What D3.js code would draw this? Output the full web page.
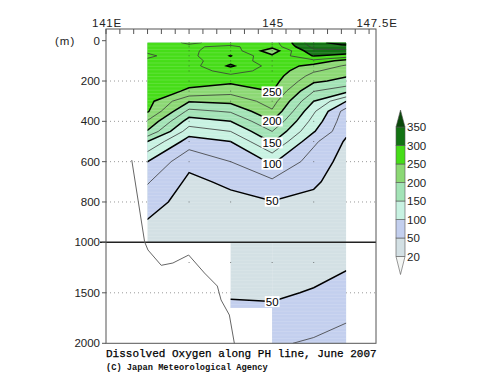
<!DOCTYPE html>
<html><head><meta charset="utf-8">
<script src="https://cdn.jsdelivr.net/npm/d3@7/dist/d3.min.js"></script>
<style>html,body{margin:0;padding:0;background:#fff;} svg{display:block;}</style>
</head><body>
<svg id="chart" width="500" height="387"></svg>
<script>
// ---------------- data ----------------
const lonUpper = [142, 143, 144, 145, 146, 146.78];
const depthUpper = [10,20,30,50,75,100,125,150,175,200,250,300,350,400,450,500,600,700,800,900,1000];
// dissolved oxygen (umol/kg), rows = depth, columns = station
const oxyUpper = [
  [262, 278, 268, 262, 342, 362],
  [263, 274, 272, 260, 338, 352],
  [265, 272, 280, 258, 332, 340],
  [273, 270, 290, 235, 320, 318],
  [277, 268, 301, 254, 302, 290],
  [273, 266, 292, 260, 268, 240],
  [268, 264, 304, 265, 242, 222],
  [266, 262, 285, 266, 228, 212],
  [265, 259, 270, 263, 216, 202],
  [264, 256, 256, 260, 205, 193],
  [262, 247, 234, 251, 176, 158],
  [259, 202, 207, 236, 150, 101],
  [253, 168, 178, 222, 129, 64],
  [222, 138, 150, 199, 115, 59],
  [197, 112, 125, 175, 102, 55],
  [150, 88, 100, 153, 80, 47],
  [100, 56, 75, 104, 62, 42],
  [77, 45, 54, 70, 53, 40],
  [62, 38, 44, 49, 45, 39],
  [48, 35, 41, 42, 41, 38],
  [40, 33, 38, 38, 39, 37]
];
const lonDeepA = [144, 145];
const depthDeepA = [1000, 1200, 1500, 1650];
const oxyDeepA = [
  [38, 38],
  [44, 44],
  [48.5, 48],
  [52, 51.5]
];
const lonDeepB = [145, 146, 146.78];
const depthDeepB = [1000, 1200, 1500, 1650, 1800, 2000];
const oxyDeepB = [
  [38, 39, 37],
  [44, 45, 47],
  [48, 51, 58],
  [51.5, 57, 65],
  [60, 70, 75],
  [73, 77, 86]
];
const fillLevels = [20, 50, 100, 150, 200, 250, 300, 350];
const fillColors = ["#f4f6f4", "#d3e0e4", "#c3cfee", "#c8f2e2", "#a3e3b6", "#8cd874", "#46dd18", "#137313", "#0b480b"];
const thickLevels = [50, 100, 150, 200, 250, 300, 350];
const thinLevels = [75, 125, 175, 225, 275, 325];
const labelLevels = [50, 100, 150, 200, 250];
const labelLon = 145;
const bottomLon = [141.62, 141.93, 142.01, 142.33, 142.61, 142.99, 143.37, 143.68, 143.77, 143.97, 144.09];
const bottomDepth = [592, 998, 1076, 1228, 1205, 1126, 1304, 1433, 1571, 1720, 2000];
const sampleLon = [143, 144, 145, 146];
const sampleDepth = [10, 20, 30, 50, 75, 100, 125, 150, 200, 250, 300, 400, 500, 600, 800, 1200];
const xTickVals = [141, 145, 147.5];
const xTickText = ["141E", "145", "147.5E"];
const yTickVals = [0, 200, 400, 600, 800, 1000, 1500, 2000];
const gridDepths = [200, 400, 600, 800, 1500];

// ---------------- scales ----------------
const svg = d3.select("#chart");
const x = d3.scaleLinear().domain([141, 147.5]).range([106, 376]);
const y = d3.scaleLinear().domain([0, 1000, 2000]).range([40.7, 242.3, 343.3]);
const frameTop = 29, frameBottom = y(2000), frameLeft = x(141), frameRight = x(147.5);
const defs = svg.append("defs");

function indexScale(arr, pad) {
  const n = arr.length - 1;
  const s = d3.scaleLinear().domain(d3.range(arr.length)).range(arr);
  return i => i < 0 ? arr[0] + i * pad : i > n ? arr[n] + (i - n) * pad : s(i);
}

// dotted grid lines (under the fill)
svg.append("g").selectAll("line").data(gridDepths).join("line")
  .attr("x1", frameLeft).attr("x2", frameRight)
  .attr("y1", d => y(d)).attr("y2", d => y(d))
  .attr("stroke", "#999").attr("stroke-width", 1).attr("stroke-dasharray", "1,3");

const fields = [];
function field(lons, depths, grid, clipPts, id) {
  const nx = lons.length, ny = depths.length;
  const values = grid.flat();
  const lonAt = indexScale(lons, 6), depAt = indexScale(depths, 900);
  const path = d3.geoPath(d3.geoTransform({
    point(px, py) { this.stream.point(x(lonAt(px - 0.5)), y(depAt(py - 0.5))); }
  }));
  const pts = clipPts.map(([lo, de]) => [x(lo), y(de)].join(",")).join(" ");
  defs.append("clipPath").attr("id", id).append("polygon").attr("points", pts);
  const g = svg.append("g").attr("clip-path", `url(#${id})`);
  g.append("polygon").attr("points", pts).attr("fill", fillColors[0]);
  const bands = d3.contours().size([nx, ny]).thresholds(fillLevels)(values);
  g.selectAll("path").data(bands).join("path")
    .attr("d", path).attr("fill", (d, i) => fillColors[i + 1]);
  fields.push({ lons, depths, grid, values, nx, ny, path, id });
}
field(lonUpper, depthUpper, oxyUpper,
  [[142, 10], [146.78, 10], [146.78, 1000], [142, 1000]], "clipU");
field(lonDeepA, depthDeepA, oxyDeepA,
  [[144, 1000], [145, 1000], [145, 1650], [144, 1650]], "clipA");
field(lonDeepB, depthDeepB, oxyDeepB,
  [[145, 1000], [146.78, 1000], [146.78, 2000], [145, 2000]], "clipB");

// faint horizontal striping of the shaded area
fields.forEach(f => {
  const gs = svg.append("g").attr("clip-path", `url(#${f.id})`);
  gs.selectAll("line").data(d3.range(frameTop, frameBottom, 3.4)).join("line")
    .attr("x1", frameLeft).attr("x2", frameRight).attr("y1", d => d).attr("y2", d => d)
    .attr("stroke", "#fff").attr("stroke-opacity", 0.15).attr("stroke-width", 1);
});

// contour lines
fields.forEach(f => {
  const g = svg.append("g").attr("clip-path", `url(#${f.id})`).attr("fill", "none");
  g.selectAll("path.thin").data(d3.contours().size([f.nx, f.ny]).thresholds(thinLevels)(f.values))
    .join("path").attr("class", "thin").attr("d", f.path)
    .attr("stroke", "#3a3a3a").attr("stroke-width", 0.8);
  g.selectAll("path.thick").data(d3.contours().size([f.nx, f.ny]).thresholds(thickLevels)(f.values))
    .join("path").attr("class", "thick").attr("d", f.path)
    .attr("stroke", "#000").attr("stroke-width", 1.5);
});

// sample points
const sp = [];
sampleLon.forEach(lo => sampleDepth.forEach(de => sp.push([lo, de])));
svg.append("g").selectAll("rect").data(sp).join("rect")
  .attr("x", d => x(d[0]) - 0.5).attr("y", d => y(d[1]) - 0.5)
  .attr("width", 1).attr("height", 1).attr("fill", "#333").attr("opacity", 0.6);

// 1000 m divider and bottom topography
svg.append("line").attr("x1", frameLeft - 6).attr("x2", frameRight)
  .attr("y1", y(1000)).attr("y2", y(1000)).attr("stroke", "#222").attr("stroke-width", 1.4);
svg.append("path")
  .attr("d", d3.line().x((d, i) => x(bottomLon[i])).y(d => y(d))(bottomDepth))
  .attr("fill", "none").attr("stroke", "#666").attr("stroke-width", 1);

// contour labels at 145E
function crossDepth(f, level) {
  const c = f.lons.indexOf(labelLon);
  let res = null;
  for (let j = 0; j < f.ny - 1; j++) {
    const a = f.grid[j][c], b = f.grid[j + 1][c];
    if ((a - level) * (b - level) <= 0 && a !== b) {
      res = f.depths[j] + (level - a) / (b - a) * (f.depths[j + 1] - f.depths[j]);
    }
  }
  return res;
}
const labs = [];
labelLevels.forEach(L => { const d = crossDepth(fields[0], L); if (d !== null) labs.push([L, d]); });
{ const d = crossDepth(fields[2], 50); if (d !== null) labs.push([50, d]); }
const lg = svg.append("g").attr("font-family", "'Liberation Sans', Arial, sans-serif").attr("font-size", 11.5);
labs.forEach(([L, d]) => {
  const t = lg.append("text").attr("x", x(labelLon)).attr("y", y(d)).attr("dy", "0.36em")
    .attr("text-anchor", "middle").attr("fill", "#000").text(L);
  const bb = t.node().getBBox();
  lg.insert("rect", "text").attr("x", bb.x - 1).attr("y", bb.y + 0.5).attr("width", bb.width + 2)
    .attr("height", bb.height - 1).attr("fill", "#fff");
});

// frame and axes
const ax = svg.append("g").attr("stroke", "#555").attr("stroke-width", 1).attr("fill", "none");
ax.append("rect").attr("x", frameLeft).attr("y", frameTop)
  .attr("width", frameRight - frameLeft).attr("height", frameBottom - frameTop);
ax.selectAll("line.xt").data(d3.range(0, 20).map(k => 141 + k / 3)).join("line")
  .attr("x1", d => x(d)).attr("x2", d => x(d)).attr("y1", frameTop).attr("y2", frameTop + 5);
ax.selectAll("line.yt").data(yTickVals).join("line")
  .attr("x1", frameLeft - 4).attr("x2", frameLeft).attr("y1", d => y(d)).attr("y2", d => y(d));

const tx = svg.append("g").attr("font-family", "'Liberation Sans', Arial, sans-serif")
  .attr("font-size", 11.5).attr("fill", "#222");
tx.selectAll("text.x").data(xTickVals).join("text")
  .attr("x", d => x(d) + 1).attr("y", 26.5).attr("text-anchor", "middle")
  .attr("letter-spacing", 0.8).text((d, i) => xTickText[i]);
tx.selectAll("text.y").data(yTickVals).join("text")
  .attr("x", 100).attr("y", d => y(d)).attr("dy", "0.36em").attr("text-anchor", "end").text(d => d);
tx.append("text").attr("x", 55).attr("y", y(0)).attr("dy", "0.36em").attr("letter-spacing", 1).text("(m)");

// colour bar
const lgX = 396, lgW = 9;
const ly = d3.scaleLinear().domain([0, fillLevels.length - 1]).range([256.5, 127]);
const cb = svg.append("g");
for (let k = 0; k < fillLevels.length - 1; k++) {
  cb.append("rect").attr("x", lgX).attr("y", ly(k + 1)).attr("width", lgW).attr("height", ly(k) - ly(k + 1))
    .attr("fill", fillColors[k + 1]).attr("stroke", "#555").attr("stroke-width", 0.6);
}
const cbTop = ly(fillLevels.length - 1), cbBot = ly(0);
cb.append("path").attr("d", `M${lgX},${cbTop}L${lgX + lgW / 2},${cbTop - 17}L${lgX + lgW},${cbTop}Z`)
  .attr("fill", fillColors[fillColors.length - 1]).attr("stroke", "#555").attr("stroke-width", 0.6);
cb.append("path").attr("d", `M${lgX},${cbBot}L${lgX + lgW / 2},${cbBot + 18}L${lgX + lgW},${cbBot}Z`)
  .attr("fill", fillColors[0]).attr("stroke", "#555").attr("stroke-width", 0.6);
cb.selectAll("text").data(fillLevels).join("text")
  .attr("x", lgX + lgW + 2).attr("y", (d, i) => ly(i)).attr("dy", "0.36em")
  .attr("font-family", "'Liberation Sans', Arial, sans-serif").attr("font-size", 11.5).attr("fill", "#222")
  .text(d => d);

// titles
svg.append("text").attr("x", 106).attr("y", 357)
  .attr("font-family", "'Liberation Mono', 'DejaVu Sans Mono', monospace").attr("font-size", 11)
  .attr("fill", "#000").attr("stroke", "#000").attr("stroke-width", 0.25)
  .text("Dissolved Oxygen along PH line, June 2007");
svg.append("text").attr("x", 106).attr("y", 369.5)
  .attr("font-family", "'Liberation Mono', 'DejaVu Sans Mono', monospace").attr("font-size", 8.7)
  .attr("font-weight", "bold").attr("fill", "#111").text("(C) Japan Meteorological Agency");
</script>
</body></html>
